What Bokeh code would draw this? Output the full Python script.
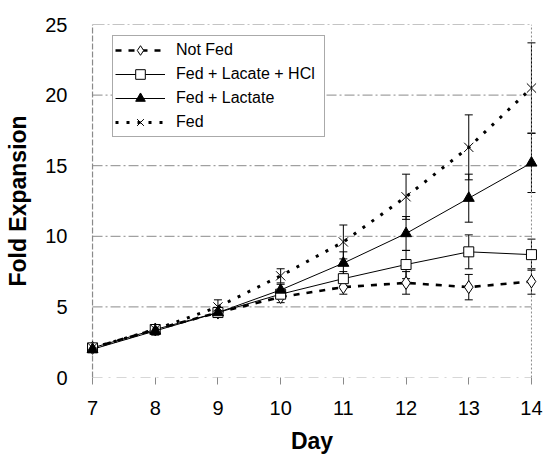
from bokeh.plotting import figure
from bokeh.models import (Range1d, ColumnDataSource, Whisker, TeeHead, Legend, LegendItem,
                          FixedTicker)
from bokeh.embed import file_html
from bokeh.resources import INLINE

days = [7, 8, 9, 10, 11, 12, 13, 14]
not_fed = [2.1, 3.4, 4.6, 5.7, 6.4, 6.7, 6.4, 6.8]
hcl = [2.1, 3.4, 4.6, 5.9, 7.0, 8.0, 8.9, 8.7]
lactate = [2.0, 3.3, 4.6, 6.2, 8.1, 10.2, 12.7, 15.2]
fed = [2.1, 3.4, 5.0, 7.2, 9.6, 12.8, 16.3, 20.5]

not_fed_err = [0.3, 0.3, 0.3, 0.4, 0.5, 0.8, 0.9, 0.9]
hcl_err = [0.3, 0.3, 0.3, 0.3, 0.5, 1.0, 1.2, 1.1]
lactate_err = [0.2, 0.3, 0.3, 0.4, 0.8, 1.2, 1.7, 2.1]
fed_err = [0.3, 0.3, 0.5, 0.5, 1.2, 1.6, 2.3, 3.2]

y_ticks = [0, 5, 10, 15, 20, 25]
labels = ["Not Fed", "Fed + Lacate + HCl", "Fed + Lactate", "Fed"]

FONT = "Liberation Sans"
GRAY = "#8a8a8a"

p = figure(width=548, height=456, output_backend="svg", toolbar_location=None,
           x_range=Range1d(6.84, 14.16), y_range=Range1d(0, 25),
           min_border_left=82, min_border_right=7, min_border_top=24, min_border_bottom=79)
p.outline_line_color = None
p.background_fill_color = "white"
p.border_fill_color = "white"
p.xgrid.grid_line_color = None
p.ygrid.grid_line_color = None

# axes
p.xaxis.ticker = FixedTicker(ticks=days)
p.yaxis.ticker = FixedTicker(ticks=y_ticks)
for ax in (p.xaxis[0], p.yaxis[0]):
    ax.axis_line_color = None
    ax.major_label_text_font = FONT
    ax.major_label_text_font_size = "20px"
    ax.major_label_text_color = "black"
    ax.axis_label_text_font = FONT
    ax.axis_label_text_font_style = "bold"
    ax.axis_label_text_font_size = "23px"
    ax.axis_label_text_color = "black"
    ax.minor_tick_line_color = None
p.xaxis.axis_label = "Day"
p.yaxis.axis_label = "Fold Expansion"
p.xaxis.major_tick_line_color = GRAY
p.xaxis.major_tick_out = 7
p.xaxis.major_tick_in = 0
p.xaxis.major_label_standoff = 16
p.xaxis.axis_label_standoff = 10
p.yaxis.major_tick_line_color = None
p.yaxis.major_label_standoff = 9
p.yaxis.axis_label_standoff = 11

# frame lines and grid, spanning days 7..14
x0, x1 = days[0], days[-1]
grid_y = y_ticks[1:-1]
p.segment(x0=[x0] * len(grid_y), x1=[x1] * len(grid_y), y0=grid_y, y1=grid_y,
          line_color=GRAY, line_width=1, line_dash="10 3 2 3")
p.segment(x0=[x0], x1=[x1], y0=[y_ticks[-1]], y1=[y_ticks[-1]],
          line_color=GRAY, line_width=1, line_dash="12 3 2 3")
p.segment(x0=[x0], x1=[x1], y0=[y_ticks[0]], y1=[y_ticks[0]],
          line_color="#b0b0b0", line_width=1, line_dash="10 6 2 6")
p.segment(x0=[x0], x1=[x0], y0=[y_ticks[0]], y1=[y_ticks[-1]],
          line_color=GRAY, line_width=1.2, line_dash="6 2")
p.segment(x0=[x1], x1=[x1], y0=[y_ticks[0]], y1=[y_ticks[-1]],
          line_color=GRAY, line_width=1, line_dash="2 2")

# error bars
def add_err(vals, errs):
    src = ColumnDataSource(dict(x=days, lo=[v - e for v, e in zip(vals, errs)],
                                hi=[v + e for v, e in zip(vals, errs)]))
    w = Whisker(source=src, base="x", lower="lo", upper="hi", dimension="height",
                line_color="black", line_width=1,
                upper_head=TeeHead(size=8, line_color="black", line_width=1),
                lower_head=TeeHead(size=8, line_color="black", line_width=1))
    p.add_layout(w)

for vals, errs in ((not_fed, not_fed_err), (hcl, hcl_err), (lactate, lactate_err), (fed, fed_err)):
    add_err(vals, errs)

# series
l_nf = p.line(days, not_fed, line_color="black", line_width=2.6, line_dash="6 7")
m_nf = p.scatter(days, not_fed, marker="diamond", size=13, fill_color="white",
                 line_color="black", line_width=1)
l_h = p.line(days, hcl, line_color="black", line_width=1)
m_h = p.scatter(days, hcl, marker="square", size=10, fill_color="white",
                line_color="black", line_width=1)
l_l = p.line(days, lactate, line_color="black", line_width=1)
m_l = p.scatter(days, lactate, marker="triangle", size=11, fill_color="black",
                line_color="black", line_width=1)
l_f = p.line(days, fed, line_color="black", line_width=3, line_dash="3 8")
m_f = p.scatter(days, fed, marker="x", size=13, line_color="black", line_width=1)

legend = Legend(items=[
    LegendItem(label=labels[0], renderers=[l_nf, m_nf]),
    LegendItem(label=labels[1], renderers=[l_h, m_h]),
    LegendItem(label=labels[2], renderers=[l_l, m_l]),
    LegendItem(label=labels[3], renderers=[l_f, m_f]),
], location=(30, 240))
legend.label_text_font = FONT
legend.label_text_font_size = "16px"
legend.label_text_color = "black"
legend.glyph_width = 50
legend.glyph_height = 24
legend.label_height = 20
legend.label_width = 146
legend.label_standoff = 11
legend.spacing = 0
legend.padding = 2
legend.margin = 0
legend.border_line_color = "#555555"
legend.border_line_width = 1
legend.background_fill_color = "white"
legend.background_fill_alpha = 1
p.add_layout(legend)

open("out.html", "w").write(file_html(p, INLINE))
